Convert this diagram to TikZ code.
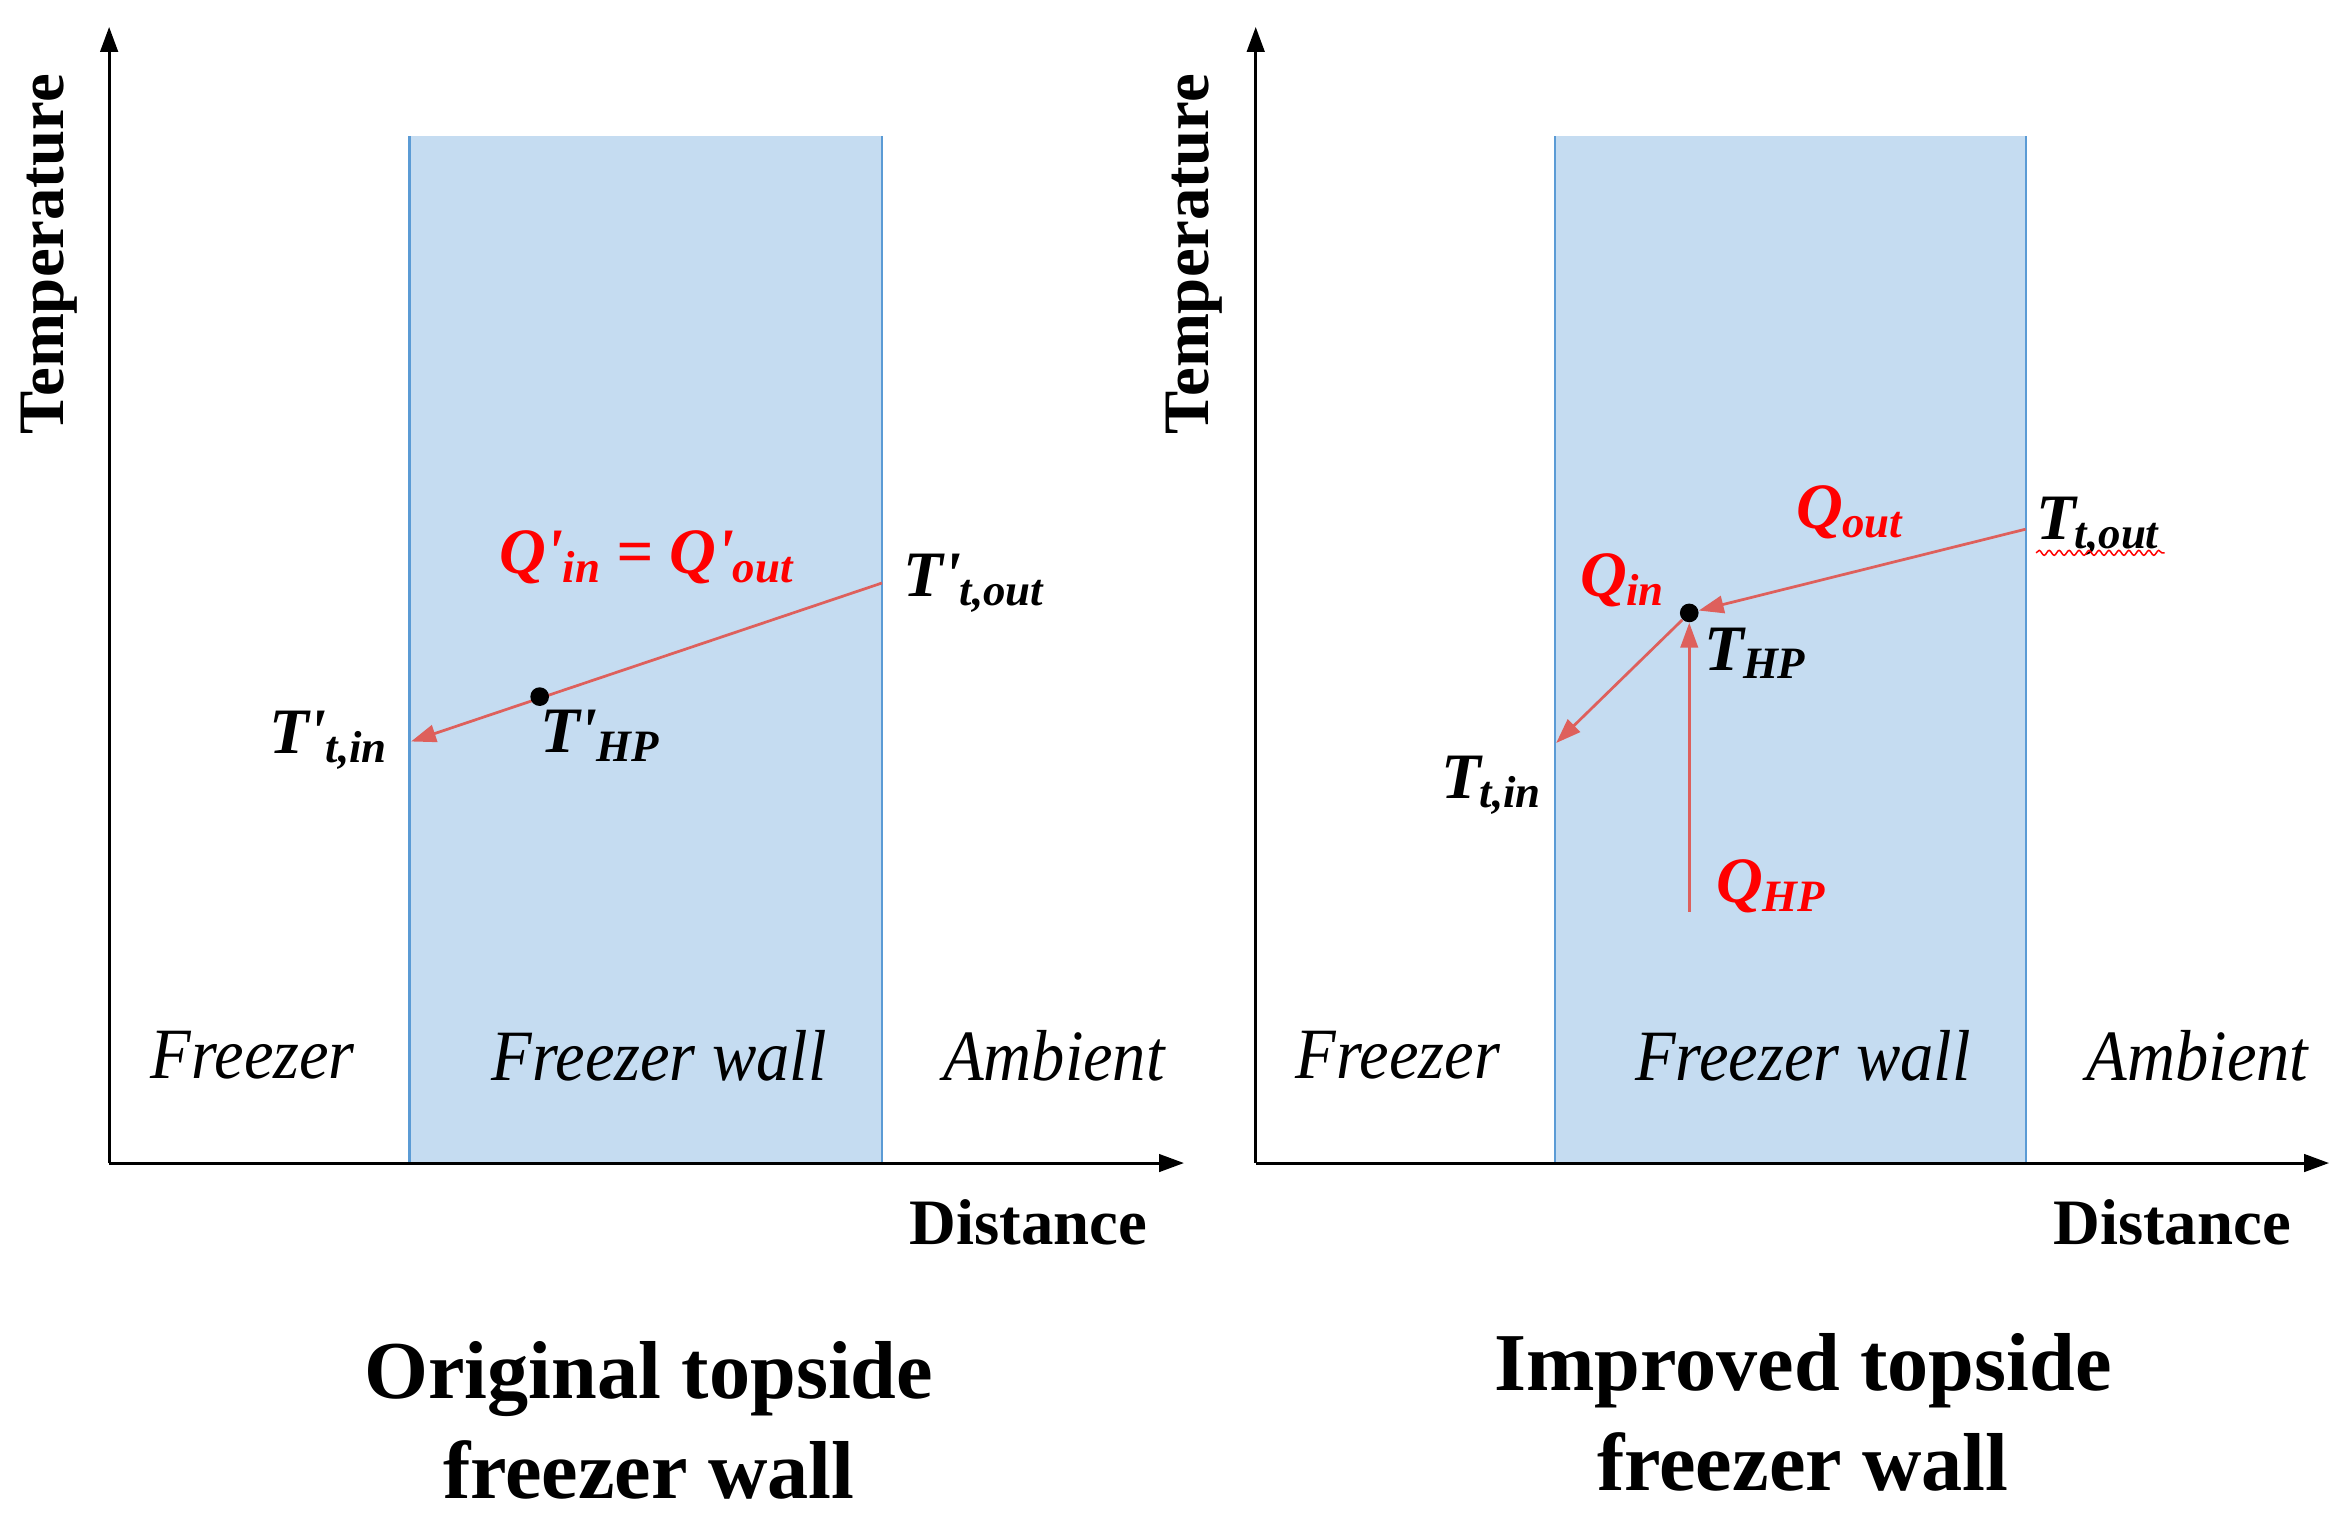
\documentclass[tikz,border=0pt]{standalone}
\usepackage{fontspec}
\setmainfont{Liberation Serif}
\newfontfamily\condfont{Liberation Serif}[FakeStretch=0.92]
\usetikzlibrary{arrows.meta,decorations.pathmorphing}
\definecolor{wallblue}{RGB}{197,220,241}
\definecolor{wallline}{RGB}{91,155,213}
\definecolor{flowred}{RGB}{222,96,92}
\definecolor{qred}{RGB}{255,0,0}
\newcommand{\sublab}[2]{#1\kern-0.5pt\raisebox{-0.3ex}{\fontsize{18}{20}\selectfont #2}}
\newcommand{\prm}{\textquotesingle}
\tikzset{
  axisline/.style={line width=1.2pt,-{Triangle[length=10pt,width=7pt]}},
  wallfill/.style={fill=wallblue,draw=none},
  walledge/.style={draw=wallline,line width=0.9pt},
  flow/.style={draw=flowred,line width=1.1pt,-{Triangle[length=10pt,width=7pt]}},
  hpdot/.style={circle,fill=black,inner sep=0pt,minimum size=7.5pt},
  zone/.style={font=\condfont\itshape\fontsize{29}{32}\selectfont},
  axlab/.style={font=\bfseries\fontsize{26}{30}\selectfont},
  ttl/.style={font=\bfseries\fontsize{33}{40}\selectfont,align=center},
  tlab/.style={font=\bfseries\itshape\fontsize{26}{30}\selectfont,inner sep=0pt},
  qlab/.style={tlab,text=qred},
  squig/.style={draw=qred,line width=0.6pt,decorate,decoration={snake,amplitude=1pt,segment length=4pt}}
}
\begin{document}
\begin{tikzpicture}[x=0.6pt,y=-0.6pt]
\useasboundingbox (0,0) rectangle (1568,1023);
% ---------- left panel ----------
\fill[wallfill] (274,91) rectangle (590,778);
\draw[walledge] (274,91) -- (274,778);
\draw[walledge] (590,91) -- (590,778);
\coordinate (LO) at (73,778);
\coordinate (LY) at (73,18);
\coordinate (LX) at (792,778);
\draw[axisline] (LO) -- (LY);
\draw[axisline] (LO) -- (LX);
\node[axlab,rotate=90] (Ltemp) at (33,170) {Temperature};
\node[axlab] (Ldist) at (688,818) {Distance};
\node[zone] (Lfz) at (169,706) {Freezer};
\node[zone] (Lfw) at (441,706) {Freezer wall};
\node[zone] (Lam) at (705,706) {Ambient};
\coordinate (Ltout) at (590,390);
\coordinate (Ltin) at (275,496);
\draw[flow] (Ltout) -- (Ltin);
\node[hpdot] (Lhp) at (361,466) {};
\node[qlab] (Lq) at (432,373) {\sublab{Q\prm}{in} = \sublab{Q\prm}{out}};
\node[tlab,anchor=west] (Ltoutl) at (604,390) {\sublab{T\prm}{t,out}};
\node[tlab,anchor=east] (Ltinl) at (259,495) {\sublab{T\prm}{t,in}};
\node[tlab,anchor=west] (Lhpl) at (361,492) {\sublab{T\prm}{HP}};
\node[ttl] (Ltitle) at (434,950) {Original topside\\freezer wall};
% ---------- right panel ----------
\fill[wallfill] (1040,91) rectangle (1355,778);
\draw[walledge] (1040,91) -- (1040,778);
\draw[walledge] (1355,91) -- (1355,778);
\coordinate (RO) at (840,778);
\coordinate (RY) at (840,18);
\coordinate (RX) at (1558,778);
\draw[axisline] (RO) -- (RY);
\draw[axisline] (RO) -- (RX);
\node[axlab,rotate=90] (Rtemp) at (799,170) {Temperature};
\node[axlab] (Rdist) at (1453,818) {Distance};
\node[zone] (Rfz) at (935,706) {Freezer};
\node[zone] (Rfw) at (1206,706) {Freezer wall};
\node[zone] (Ram) at (1470,706) {Ambient};
\node[hpdot] (Rhp) at (1130,410) {};
\coordinate (Rtout) at (1355,354);
\coordinate (Rtin) at (1041,497);
\coordinate (Rqs) at (1130,610);
\draw[flow] (Rtout) -- (Rhp);
\draw[flow] (Rhp.225) -- (Rtin);
\draw[flow] (Rqs) -- (Rhp);
\node[qlab] (Rqout) at (1237,343) {\sublab{Q}{out}};
\node[qlab] (Rqin) at (1085,388) {\sublab{Q}{in}};
\node[qlab,anchor=west] (Rqhp) at (1148,593) {\sublab{Q}{HP}};
\node[tlab,anchor=west] (Rhpl) at (1140,437) {\sublab{T}{HP}};
\node[tlab,anchor=east] (Rtinl) at (1031,525) {\sublab{T}{t,in}};
\node[tlab,anchor=west] (Rtoutl) at (1362,352) {\sublab{T}{t,out}};
\draw[squig] (Rtoutl.south west) ++(0,-2) -- ++(86,0);
\node[ttl] (Rtitle) at (1206,945) {Improved topside\\freezer wall};
\end{tikzpicture}
\end{document}
